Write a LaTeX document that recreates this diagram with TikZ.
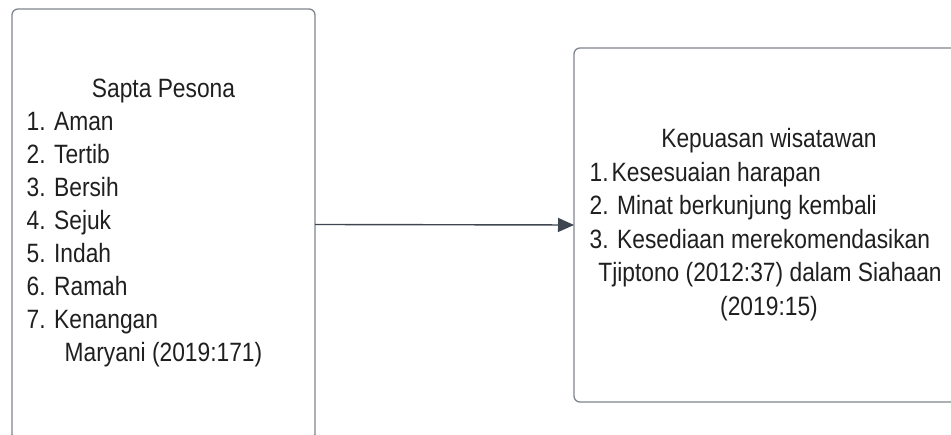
\documentclass[tikz,border=0pt]{standalone}
\usepackage{fontspec}
\setmainfont{Liberation Sans}[FakeStretch=0.86]
\usetikzlibrary{arrows.meta}
\definecolor{boxgray}{HTML}{80868E}
\definecolor{arrowgray}{HTML}{3F4550}
\definecolor{textblack}{HTML}{1F1F1F}

\begin{document}
\begin{tikzpicture}[x=1pt,y=1pt]
    \tikzstyle{panel}=[rectangle,draw=boxgray,line width=1.3pt,rounded corners=6pt,inner sep=0pt,outer sep=0pt]
    \tikzstyle{txt}=[inner sep=0pt,text=textblack,font=\fontsize{26.5}{30}\selectfont]
    \tikzstyle{item}=[txt,anchor=base west]
    \tikzstyle{head}=[txt,anchor=base]
    \useasboundingbox (0,0) rectangle (951,435);
    \clip (0,0) rectangle (951,435);
    % boxes
    \node[panel,minimum width=303pt,minimum height=431pt] (sapta) at (163.5,210.5) {};
    \node[panel,minimum width=390pt,minimum height=354pt] (kepuasan) at (769,210) {};
    % left text
    \node[head] (saptatitle) at (163.5,337) {Sapta Pesona};
    \node[item] (aman) at (26.5,304) {1. Aman};
    \node[item] (tertib) at (26.5,271) {2. Tertib};
    \node[item] (bersih) at (26.5,238) {3. Bersih};
    \node[item] (sejuk) at (26.5,205) {4. Sejuk};
    \node[item] (indah) at (26.5,172) {5. Indah};
    \node[item] (ramah) at (26.5,139) {6. Ramah};
    \node[item] (kenangan) at (26.5,106) {7. Kenangan};
    \node[head] (maryani) at (163.5,73) {Maryani (2019:171)};
    % right text
    \node[head] (kepuasantitle) at (769,287) {Kepuasan wisatawan};
    \node[item] (harapan) at (589.5,253.5) {1.\kern3pt Kesesuaian harapan};
    \node[item] (minat) at (589.5,220) {2. Minat berkunjung kembali};
    \node[item] (kesediaan) at (589.5,186.5) {3. Kesediaan merekomendasikan};
    \node[head] (tjiptono) at (770,153) {Tjiptono (2012:37) dalam Siahaan};
    \node[head] (siahaan) at (769,119.5) {(2019:15)};
    % connector
    \draw[arrowgray,line width=1.4pt,-{Triangle[length=16pt,width=14pt]}] (sapta.east) -- (kepuasan.west);
\end{tikzpicture}
\end{document}
